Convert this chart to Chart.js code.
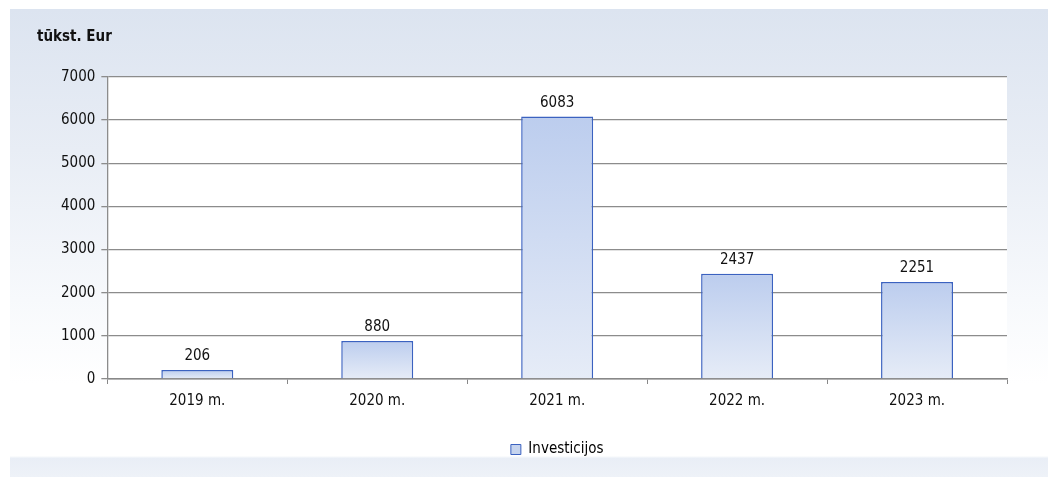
<!DOCTYPE html>
<html>
<head>
<meta charset="utf-8">
<script src="https://cdn.jsdelivr.net/npm/chart.js@4"></script>
<style>
  html, body { margin: 0; padding: 0; background: #fff; }
  #wrap { position: relative; width: 1048px; height: 477px; overflow: hidden; }
  #panel {
    position: absolute; left: 10px; top: 9px; width: 1038px; height: 468px;
    background: linear-gradient(to bottom, #dce4f0 0%, #e8edf5 30%, #f7f9fc 62%, #ffffff 80%, #ffffff 95.5%, #e9eef6 96%, #eef2f8 100%);
  }
  canvas { position: absolute; left: 0; top: 0; }
</style>
</head>
<body>
<div id="wrap">
  <div id="panel"></div>
  <canvas id="chart" width="1048" height="477"></canvas>
</div>
<script>
// ===== data =====
const years = ["2019 m.", "2020 m.", "2021 m.", "2022 m.", "2023 m."];
const investicijos = [206, 880, 6083, 2437, 2251];
const seriesName = "Investicijos";
const unitTitle = "tūkst. Eur";

const FONT = "'DejaVu Sans Condensed', 'DejaVu Sans', sans-serif";

// white plot area + title + value labels
const decor = {
  id: "decor",
  beforeDraw(chart) {
    const { ctx, chartArea: a } = chart;
    ctx.save();
    ctx.fillStyle = "#ffffff";
    ctx.fillRect(a.left, a.top, a.right - a.left, a.bottom - a.top);
    ctx.restore();
  },
  afterDraw(chart) {
    const ctx = chart.ctx;
    ctx.save();
    ctx.fillStyle = "#111";
    ctx.font = "bold 15px " + FONT;
    ctx.textBaseline = "middle";
    ctx.fillText(unitTitle, 37, 37);

    ctx.font = "15px " + FONT;
    ctx.textAlign = "center";
    ctx.textBaseline = "alphabetic";
    chart.getDatasetMeta(0).data.forEach((bar, i) => {
      ctx.fillText(String(investicijos[i]), bar.x, bar.y - 10);
    });
    ctx.restore();
  },
};

// gradient per bar, from its top down to the axis
function barFill(context) {
  const chart = context.chart;
  const a = chart.chartArea;
  if (!a || !chart.scales.y) return "#c6d4ee";
  const top = chart.scales.y.getPixelForValue(investicijos[context.dataIndex]);
  const g = chart.ctx.createLinearGradient(0, top, 0, a.bottom);
  g.addColorStop(0, "#bccdee");
  g.addColorStop(1, "#e6ecf7");
  return g;
}

new Chart(document.getElementById("chart"), {
  type: "bar",
  data: {
    labels: years,
    datasets: [
      {
        label: seriesName,
        data: investicijos,
        backgroundColor: barFill,
        borderColor: "#3b62c0",
        borderWidth: 1.5,
        categoryPercentage: 1,
        barPercentage: 0.4,
      },
    ],
  },
  options: {
    responsive: false,
    animation: false,
    devicePixelRatio: 1,
    layout: { padding: { top: 77, right: 41, left: 55, bottom: 10 } },
    scales: {
      x: {
        grid: {
          display: true,
          drawOnChartArea: false,
          offset: true,
          tickLength: 5,
          color: "#888",
        },
        border: { color: "#888", width: 1.5 },
        ticks: { color: "#111", font: { family: FONT, size: 15 }, padding: 8 },
        afterFit: (scale) => {
          scale.height += 12;
        },
      },
      y: {
        min: 0,
        max: 7000,
        ticks: {
          stepSize: 1000,
          color: "#111",
          font: { family: FONT, size: 15 },
          padding: 6,
          callback: (v) => String(v),
        },
        grid: { color: "#8c8c8c", lineWidth: 1.3, tickLength: 6 },
        border: { color: "#8c8c8c", width: 1.3 },
      },
    },
    plugins: {
      legend: {
        position: "bottom",
        fullSize: false,
        labels: {
          color: "#111",
          font: { family: FONT, size: 15 },
          boxWidth: 10,
          boxHeight: 10,
          padding: 12,
          generateLabels: () => [
            {
              text: seriesName,
              fillStyle: "#c6d4ee",
              strokeStyle: "#3b62c0",
              lineWidth: 1,
            },
          ],
        },
      },
      tooltip: { enabled: false },
    },
  },
  plugins: [decor],
});
</script>
</body>
</html>
